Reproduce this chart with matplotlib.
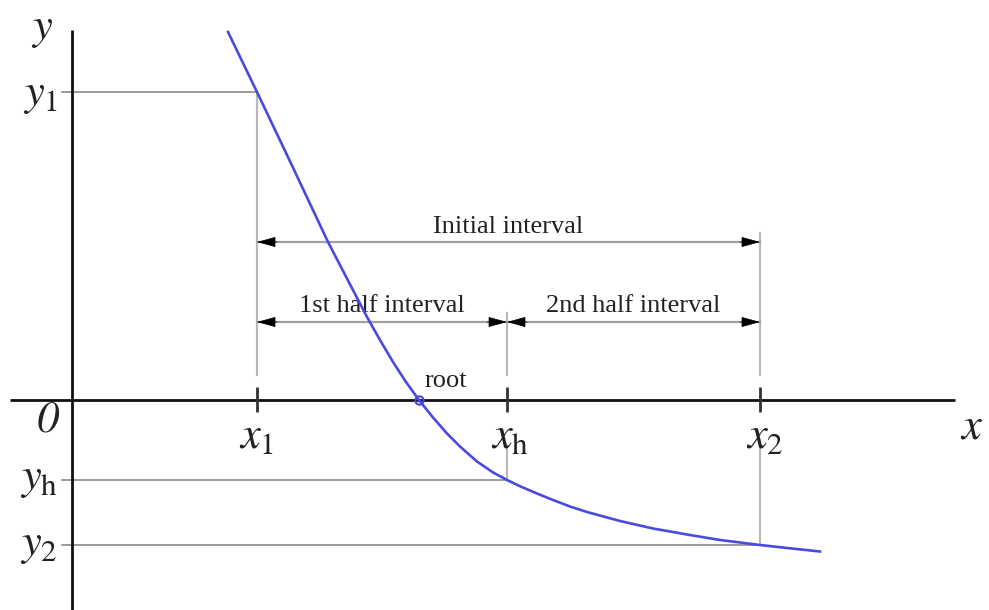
import matplotlib
matplotlib.use("Agg")
import matplotlib.pyplot as plt

plt.rcParams["mathtext.fontset"] = "stix"

# Sampled points of f(x) (decreasing, convex)
curve_x = [1.56, 1.85, 2.20, 2.56, 2.95, 3.08, 3.21, 3.34, 3.47, 3.61, 3.75,
           3.88, 4.05, 4.21, 4.35, 4.48, 4.65, 4.81, 4.98, 5.15, 5.48, 5.81,
           6.15, 6.48, 6.88, 7.15, 7.48]
curve_y = [3.68, 3.08, 2.345, 1.58, 0.83, 0.60, 0.38, 0.18, 0.00, -0.175, -0.335,
           -0.465, -0.615, -0.724, -0.80, -0.862, -0.935, -1.00, -1.065, -1.12, -1.21,
           -1.285, -1.345, -1.40, -1.45, -1.48, -1.515]

# Bisection quantities
x1, xh, x2 = 1.85, 4.35, 6.88
y1, yh, y2 = 3.08, -0.80, -1.45
x_root = 3.47

interval_labels = ["Initial interval", "1st half interval", "2nd half interval"]
interval_levels = [1.58, 0.78, 0.78]

AXIS = "#111111"
GUIDE_H = "#8a8a8a"
GUIDE_V = "#b8b8b8"
ARROW_LINE = "#a0a0a0"
BLUE = "#4a4ae0"
TEXT = "#222222"

fig = plt.figure(figsize=(9.89, 6.10), dpi=100)
ax = fig.add_axes([0, 0, 1, 1])
ax.set_xlim(-0.72, 9.17)
ax.set_ylim(-2.10, 4.00)
ax.axis("off")

# Coordinate axes
ax.plot([-0.62, 8.83], [0, 0], color=AXIS, lw=2.0, solid_capstyle="butt", zorder=3)
ax.plot([0, 0], [-2.10, 3.70], color=AXIS, lw=2.0, solid_capstyle="butt", zorder=3)

# Horizontal guides to the y axis
for xv, yv in [(x1, y1), (xh, yh), (x2, y2)]:
    ax.plot([-0.10, xv], [yv, yv], color=GUIDE_H, lw=1.2, zorder=1)

# Vertical guides
ax.plot([x1, x1], [y1, 0.25], color=GUIDE_V, lw=1.5, zorder=1)
ax.plot([xh, xh], [interval_levels[1] + 0.09, 0.25], color=GUIDE_V, lw=1.5, zorder=1)
ax.plot([xh, xh], [-0.48, yh], color=GUIDE_V, lw=1.5, zorder=1)
ax.plot([x2, x2], [interval_levels[0] + 0.09, 0.25], color=GUIDE_V, lw=1.5, zorder=1)
ax.plot([x2, x2], [-0.48, y2], color=GUIDE_V, lw=1.5, zorder=1)

# Tick marks on the x axis
for xv in [x1, xh, x2]:
    ax.plot([xv, xv], [0.13, -0.12], color="#333333", lw=2.0,
            solid_capstyle="butt", zorder=4)

# Dimension arrows
def dim_arrow(xa, xb, yv):
    ax.plot([xa, xb], [yv, yv], color=ARROW_LINE, lw=1.6, zorder=2)
    for tip, tail in [(xa, xa + 0.2), (xb, xb - 0.2)]:
        ax.annotate("", xy=(tip, yv), xytext=(tail, yv),
                    arrowprops=dict(arrowstyle="-|>,head_length=0.8,head_width=0.22",
                                    color="black", lw=0.5, shrinkA=0, shrinkB=0,
                                    mutation_scale=15), zorder=3)

dim_arrow(x1, x2, interval_levels[0])
dim_arrow(x1, xh, interval_levels[1])
dim_arrow(xh, x2, interval_levels[2])

label_font = dict(family="Liberation Serif", fontsize=19, color=TEXT)
ax.text((x1 + x2) / 2, interval_levels[0] + 0.15, interval_labels[0],
        ha="center", va="center", **label_font)
ax.text((x1 + xh) / 2, interval_levels[1] + 0.16, interval_labels[1],
        ha="center", va="center", **label_font)
ax.text((xh + x2) / 2, interval_levels[2] + 0.16, interval_labels[2],
        ha="center", va="center", **label_font)

# Function curve and root
ax.plot(curve_x, curve_y, color=BLUE, lw=1.9, solid_joinstyle="round", zorder=5)
ax.plot([x_root], [0], marker="o", ms=6, mfc="none", mec=BLUE, mew=1.5, zorder=6)
ax.text(x_root + 0.27, 0.19, "root", ha="center", va="center", **label_font)

# Axis symbols
sym = dict(fontsize=32, color=TEXT)
ax.text(-0.30, 3.71, r"$y$", ha="center", va="center", **sym)
ax.text(-0.14, y1 - 0.03, r"$y_1$", ha="right", va="center", **sym)
ax.text(-0.14, yh + 0.02, r"$y_\mathrm{h}$", ha="right", va="center", **sym)
ax.text(-0.14, y2 + 0.01, r"$y_2$", ha="right", va="center", **sym)
ax.text(-0.24, -0.21, "0", family="STIXGeneral", style="italic",
        ha="center", va="center", **sym)
ax.text(x1, -0.36, r"$x_1$", ha="center", va="center", **sym)
ax.text(xh + 0.03, -0.36, r"$x_\mathrm{h}$", ha="center", va="center", **sym)
ax.text(x2 + 0.05, -0.36, r"$x_2$", ha="center", va="center", **sym)
ax.text(9.00, -0.26, r"$x$", ha="center", va="center", **sym)

fig.savefig("out.png", dpi=100, facecolor="white")
